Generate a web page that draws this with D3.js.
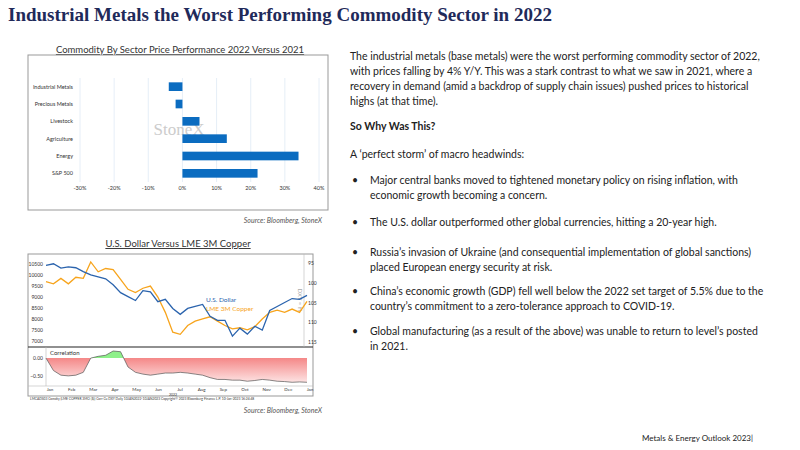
<!DOCTYPE html>
<html lang="en">
<head>
<meta charset="UTF-8">
<script src="https://cdn.jsdelivr.net/npm/d3@7"></script>
<style>
  body { margin: 0; background: #fff; }
  text { font-family: Lato, "Liberation Sans", sans-serif; }
</style>
</head>
<body>
<script>
  // --- data ---
  let sectors = ['Industrial Metals', 'Precious Metals', 'Livestock', 'Agriculture', 'Energy', 'S&P 500']
  let sectorChange = [-4, -2, 5, 13, 34, 22]
  let pctTicks = [-30, -20, -10, 0, 10, 20, 30, 40]

  // approx. semi-monthly points through 2022 (index 0 = early Jan 2022, last = early Jan 2023)
  let copper = [9700, 9600, 9850, 9600, 9900, 9850, 10600, 10150, 10300, 10250, 9800, 9350, 9200, 9400, 9500, 9000, 8300, 7400, 7300, 7700, 7900, 8000, 8100, 7900, 7700, 7550, 7600, 7500, 7650, 8000, 8300, 8400, 8300, 8450, 8300, 8800]
  let dollar = [95.6, 95.2, 96.3, 96.0, 96.2, 97.2, 98.0, 98.5, 99.0, 100.5, 102.5, 103.5, 104.5, 102.0, 102.3, 104.8, 104.2, 106.5, 108.0, 106.5, 106.0, 105.5, 108.5, 109.5, 109.5, 113.5, 111.5, 113.0, 111.0, 112.0, 107.0, 106.0, 105.0, 104.0, 104.2, 103.2]
  let corr = [0, -0.35, -0.48, -0.5, -0.48, -0.4, 0, 0.05, 0.08, 0.2, 0.18, -0.25, -0.4, -0.45, -0.48, -0.45, -0.42, -0.42, -0.4, -0.42, -0.45, -0.48, -0.55, -0.6, -0.6, -0.62, -0.62, -0.65, -0.63, -0.6, -0.62, -0.65, -0.66, -0.68, -0.67, -0.68]
  let months = ['Jan', 'Feb', 'Mar', 'Apr', 'May', 'Jun', 'Jul', 'Aug', 'Sep', 'Oct', 'Nov', 'Dec', 'Jan']
  let copperTicks = [7000, 7500, 8000, 8500, 9000, 9500, 10000, 10500]
  let dollarTicks = [95, 100, 105, 110, 115]
  let bullets = [
    ['Major central banks moved to tightened monetary policy on rising inflation, with', 'economic growth becoming a concern.'],
    ['The U.S. dollar outperformed other global currencies, hitting a 20-year high.'],
    ['Russia\u2019s invasion of Ukraine (and consequential implementation  of global sanctions)', 'placed European energy security at risk.'],
    ['China\u2019s economic growth (GDP) fell well below the 2022 set target of 5.5% due to the', 'country\u2019s commitment to a zero-tolerance approach to COVID-19.'],
    ['Global manufacturing (as a result of the above) was unable to return to level\u2019s posted', 'in 2021.']
  ]

  let svg = d3.select('body').append('svg').attr('width', 800).attr('height', 450)

  svg.append('text').attr('x', 8).attr('y', 21)
    .style('font-family', '"Liberation Serif", "DejaVu Serif", serif').style('font-weight', 'bold')
    .attr('font-size', 19).attr('fill', '#1f2a5a')
    .text('Industrial Metals the Worst Performing Commodity Sector in 2022')

  // --- chart 1: bars ---
  svg.append('text').attr('x', 180).attr('y', 53).attr('text-anchor', 'middle')
    .attr('font-size', 9.5).attr('fill', '#333').attr('text-decoration', 'underline')
    .text('Commodity By Sector Price Performance 2022 Versus 2021')
  svg.append('rect').attr('x', 28).attr('y', 55).attr('width', 300).attr('height', 155)
    .attr('fill', 'none').attr('stroke', '#999')

  let x1 = d3.scaleLinear().domain([-30, 40]).range([80, 319])
  let y1 = d3.scaleBand().domain(sectors).range([78, 182]).paddingInner(0.5).paddingOuter(0.25)
  let g1 = svg.append('g')
  g1.selectAll('line.grid').data(pctTicks).enter().append('line')
    .attr('x1', d => x1(d)).attr('x2', d => x1(d)).attr('y1', 78).attr('y2', 182)
    .attr('stroke', '#dfeaf5').attr('stroke-width', 0.8)
  g1.append('text').attr('x', x1(-1)).attr('y', 135).attr('text-anchor', 'middle')
    .style('font-family', '"Liberation Serif", serif').attr('font-size', 17).attr('fill', '#ccc').text('StoneX')
  g1.selectAll('rect.bar').data(sectors).enter().append('rect')
    .attr('x', (d, i) => x1(Math.min(0, sectorChange[i])))
    .attr('width', (d, i) => Math.abs(x1(sectorChange[i]) - x1(0)))
    .attr('y', d => y1(d)).attr('height', y1.bandwidth())
    .attr('fill', '#0b6cc0')
  g1.selectAll('text.cat').data(sectors).enter().append('text')
    .attr('x', 73).attr('y', d => y1(d) + y1.bandwidth() / 2 + 2).attr('text-anchor', 'end')
    .attr('font-size', 5.5).attr('fill', '#333').text(d => d)
  g1.selectAll('text.tick').data(pctTicks).enter().append('text')
    .attr('x', d => x1(d)).attr('y', 190).attr('text-anchor', 'middle')
    .attr('font-size', 5.5).attr('fill', '#333').text(d => d + '%')
  svg.append('text').attr('x', 322).attr('y', 223).attr('text-anchor', 'end')
    .attr('font-size', 7).attr('font-style', 'italic').attr('fill', '#555').text('Source:  Bloomberg,  StoneX')

  // --- chart 2: dollar vs copper ---
  svg.append('text').attr('x', 178).attr('y', 247).attr('text-anchor', 'middle')
    .attr('font-size', 9.5).attr('fill', '#333').attr('text-decoration', 'underline')
    .text('U.S. Dollar Versus LME 3M Copper')
  svg.append('rect').attr('x', 28).attr('y', 254).attr('width', 285).attr('height', 142)
    .attr('fill', '#fff').attr('stroke', '#999')

  let n = copper.length
  let x2 = d3.scaleLinear().domain([0, n - 1]).range([46, 307])
  let yc = d3.scaleLinear().domain([6950, 10550]).range([342, 263])
  let yd = d3.scaleLinear().domain([115, 95]).range([342, 263])
  let yr = d3.scaleLinear().domain([-0.7, 0.2]).range([383, 351])
  let xm = d3.scaleLinear().domain([0, 12]).range([50, 310])

  let g2 = svg.append('g')
  g2.append('line').attr('x1', 28).attr('x2', 313).attr('y1', 347).attr('y2', 347).attr('stroke', '#222').attr('stroke-width', 1.2)
  g2.append('line').attr('x1', 304).attr('x2', 304).attr('y1', 254).attr('y2', 347).attr('stroke', '#bbb').attr('stroke-width', 0.6)
  g2.append('line').attr('x1', 46).attr('x2', 46).attr('y1', 347).attr('y2', 386).attr('stroke', '#bbb').attr('stroke-width', 0.6)
  g2.append('line').attr('x1', 28).attr('x2', 313).attr('y1', 386).attr('y2', 386).attr('stroke', '#bbb').attr('stroke-width', 0.6)

  g2.selectAll('text.cl').data(copperTicks).enter().append('text')
    .attr('x', 43).attr('y', d => yc(d) + 2).attr('text-anchor', 'end')
    .attr('font-size', 5).attr('fill', '#333').text(d => d)
  g2.selectAll('text.dl').data(dollarTicks).enter().append('text')
    .attr('x', 308).attr('y', d => yd(d) + 2)
    .attr('font-size', 5).attr('fill', '#333').text(d => d)
  g2.append('text').attr('x', 298).attr('y', 300).attr('text-anchor', 'middle')
    .attr('font-size', 6).attr('fill', '#aaa').attr('transform', 'rotate(90 298 300)').text('DXY = H')

  let line = (arr, ys) => d3.line().x((d, i) => x2(i)).y(d => ys(d))(arr)
  g2.append('path').attr('d', line(copper, yc)).attr('fill', 'none').attr('stroke', '#f7a41c').attr('stroke-width', 1.3)
  g2.append('path').attr('d', line(dollar, yd)).attr('fill', 'none').attr('stroke', '#2a63ad').attr('stroke-width', 1.3)
  g2.append('text').attr('x', 206).attr('y', 302).attr('font-size', 6.5).attr('fill', '#2a63ad').text('U.S. Dollar')
  g2.append('text').attr('x', 206).attr('y', 311).attr('font-size', 6.5).attr('fill', '#f7a41c').text('LME 3M Copper')

  // correlation area
  let defs = svg.append('defs')
  let grad = defs.append('linearGradient').attr('id', 'neg').attr('x1', 0).attr('x2', 0).attr('y1', 0).attr('y2', 1)
  grad.append('stop').attr('offset', '0%').attr('stop-color', '#f26d6d')
  grad.append('stop').attr('offset', '100%').attr('stop-color', '#fde3e3')
  defs.append('clipPath').attr('id', 'pos').append('rect').attr('x', 0).attr('y', 0).attr('width', 800).attr('height', yr(0))
  defs.append('clipPath').attr('id', 'negc').append('rect').attr('x', 0).attr('y', yr(0)).attr('width', 800).attr('height', 100)
  let area = d3.area().x((d, i) => x2(i)).y0(yr(0)).y1(d => yr(d))
  g2.append('path').attr('d', area(corr)).attr('fill', '#8ef08a').attr('clip-path', 'url(#pos)')
  g2.append('path').attr('d', area(corr)).attr('fill', 'url(#neg)').attr('clip-path', 'url(#negc)')
  g2.append('path').attr('d', line(corr, yr)).attr('fill', 'none').attr('stroke', '#555').attr('stroke-width', 0.7)
  g2.append('text').attr('x', 50).attr('y', 355).attr('font-size', 6).attr('fill', '#333').text('Correlation')
  g2.selectAll('text.rl').data([0, -0.5]).enter().append('text')
    .attr('x', 43).attr('y', d => yr(d) + 2).attr('text-anchor', 'end')
    .attr('font-size', 5).attr('fill', '#333').text(d => d3.format('.2f')(d))

  g2.selectAll('text.mo').data(months).enter().append('text')
    .attr('x', (d, i) => xm(i)).attr('y', 391).attr('text-anchor', 'middle')
    .attr('font-size', 4.5).attr('fill', '#333').text(d => d)
  g2.append('text').attr('x', 173).attr('y', 396).attr('text-anchor', 'middle').attr('font-size', 3.5).attr('fill', '#333').text('2022')
  g2.append('text').attr('x', 30).attr('y', 400).attr('font-size', 3.3).attr('fill', '#333')
    .text('LMCADS03 Comdty (LME COPPER    3MO ($))  Corr Cu DXY  Daily 10JAN2022-10JAN2023  Copyright\u00a9 2023 Bloomberg Finance L.P.  10-Jan-2023 16:24:48')
  svg.append('text').attr('x', 322).attr('y', 413).attr('text-anchor', 'end')
    .attr('font-size', 7).attr('font-style', 'italic').attr('fill', '#555').text('Source:  Bloomberg,  StoneX')

  // --- text column ---
  let tx = svg.append('g').attr('font-size', 10.5).attr('fill', '#222')
  let intro = ['The industrial metals (base metals) were the worst performing commodity sector of 2022,',
    'with prices falling by 4% Y/Y. This was a stark contrast to what we saw in 2021, where a',
    'recovery in demand (amid a backdrop of supply chain issues) pushed prices to historical',
    'highs (at that time).']
  intro.forEach((t, i) => tx.append('text').attr('x', 350).attr('y', 60 + i * 15).text(t))
  tx.append('text').attr('x', 350).attr('y', 130).attr('font-weight', 'bold').text('So Why Was This?')
  tx.append('text').attr('x', 350).attr('y', 158).text('A \u2018perfect storm\u2019 of macro headwinds:')
  let by = [184, 226, 256, 295, 335]
  bullets.forEach((b, i) => {
    tx.append('text').attr('x', 352).attr('y', by[i]).text('\u2022')
    b.forEach((t, j) => tx.append('text').attr('x', 370).attr('y', by[i] + j * 15).text(t))
  })
  svg.append('text').attr('x', 642).attr('y', 441).attr('font-size', 8).attr('fill', '#222').text('Metals & Energy Outlook 2023|')
</script>
</body>
</html>
